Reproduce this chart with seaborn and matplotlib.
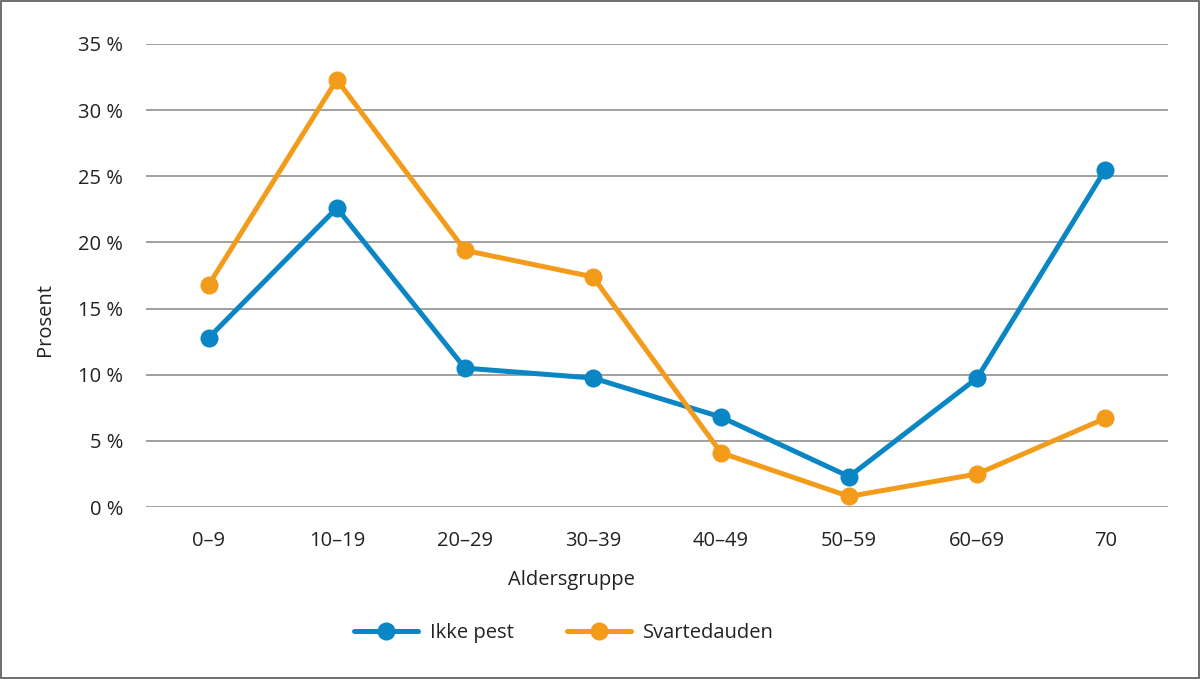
import pandas as pd
import matplotlib.pyplot as plt
import seaborn as sns

aldersgrupper = ["0–9", "10–19", "20–29", "30–39", "40–49", "50–59", "60–69", "70"]
ikke_pest = [12.8, 22.6, 10.5, 9.75, 6.8, 2.3, 9.75, 25.5]
svartedauden = [16.8, 32.3, 19.4, 17.4, 4.1, 0.8, 2.5, 6.7]
serier = ["Ikke pest", "Svartedauden"]
farger = ["#0a86c4", "#f39c1c"]

df = pd.DataFrame({
    "Aldersgruppe": aldersgrupper * 2,
    "Prosent": ikke_pest + svartedauden,
    "Serie": [serier[0]] * len(aldersgrupper) + [serier[1]] * len(aldersgrupper),
})

sns.set_style("white")
plt.rcParams["font.family"] = ["Open Sans", "DejaVu Sans"]
tekst = "#222222"
fs = 14.5

fig = plt.figure(figsize=(12, 6.79), dpi=100)
ax = fig.add_axes([0.1217, 0.2533, 0.8516, 0.6819])

sns.lineplot(data=df, x="Aldersgruppe", y="Prosent", hue="Serie", palette=farger,
             marker="o", markersize=13, markeredgewidth=0, linewidth=3.6,
             sort=False, legend=False, ax=ax)

ax.set_ylim(0, 35)
ax.set_xlim(-0.49, 7.49)
ax.set_yticks(range(0, 36, 5))
ax.set_yticklabels([f"{v} %" for v in range(0, 36, 5)])
ax.yaxis.grid(True, color="#a0a0a0", linewidth=1.4)
ax.set_axisbelow(True)
for s in ax.spines.values():
    s.set_visible(False)
ax.tick_params(axis="both", length=0, labelsize=fs, labelcolor=tekst)
ax.tick_params(axis="y", pad=16.5)
ax.tick_params(axis="x", pad=17)
ax.set_xlabel("")
ax.set_ylabel("")

fig.text(571 / 1200, 1 - 580 / 679, "Aldersgruppe", ha="center", va="center",
         fontsize=fs, color=tekst)
fig.text(45 / 1200, 1 - 320 / 679, "Prosent", ha="center", va="center",
         rotation=90, fontsize=fs, color=tekst)

handles = [plt.Line2D([], [], color=c, marker="o", markersize=13, linewidth=3.6,
                      markeredgewidth=0) for c in farger]
fig.legend(handles, serier, loc="center", bbox_to_anchor=(564 / 1200, 1 - 633 / 679),
           ncol=2, frameon=False, fontsize=fs, handlelength=3.2, handletextpad=0.6,
           columnspacing=2.6, labelcolor=tekst)

# frame around the figure
fig.patches.append(plt.Rectangle((0.001, 0.001), 0.998, 0.997, transform=fig.transFigure,
                                 fill=False, edgecolor="#555555", linewidth=1.2))

fig.savefig("out.png", dpi=100)
